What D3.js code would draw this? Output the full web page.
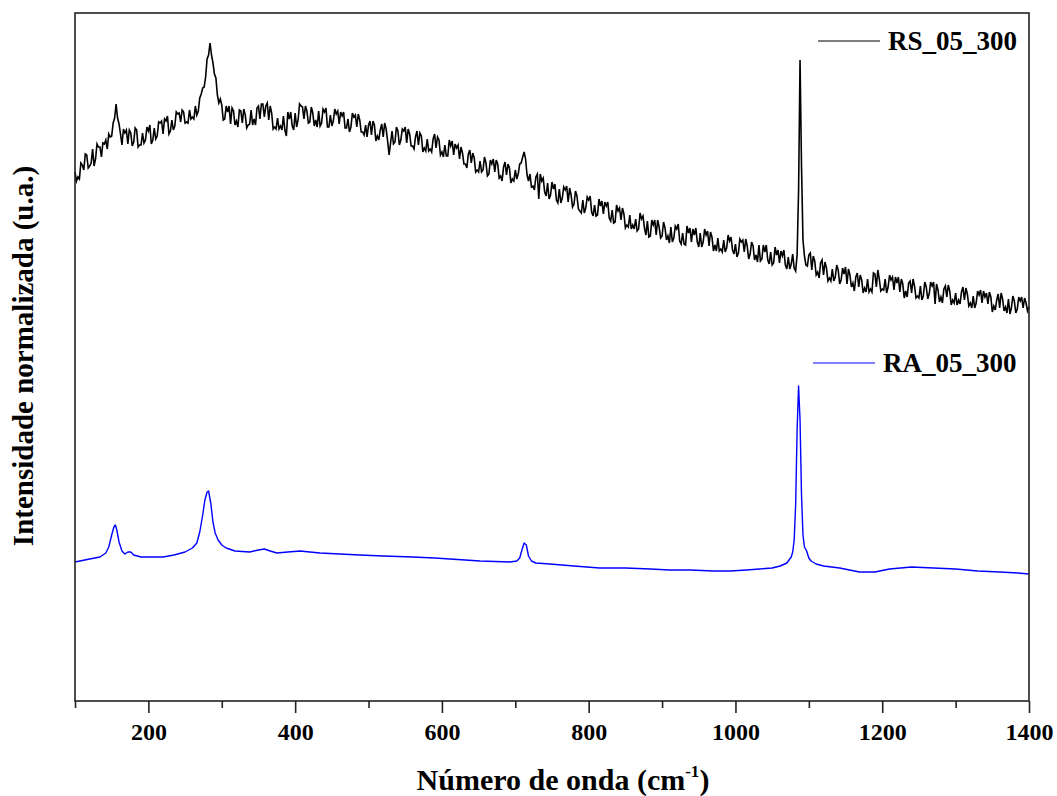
<!DOCTYPE html>
<html>
<head>
<meta charset="utf-8">
<script src="https://cdn.jsdelivr.net/npm/d3@7/dist/d3.min.js"></script>
<style>
body { margin: 0; background: #fff; }
svg text { font-family: "Liberation Serif", "Times New Roman", serif; font-weight: bold; fill: #000; }
</style>
</head>
<body>
<div id="chart"></div>
<script>
// RS_05_300: noisy spectrum, read every 4 cm-1 from 100 to 1400
const rsStart = 100
const rsStep = 4
const rsIntensity = [
    5.29, 5.24, 5.38, 5.31, 5.46, 5.35, 5.52, 5.42, 5.54, 5.44,
    5.57, 5.52, 5.64, 5.78, 5.97, 5.77, 5.56, 5.68, 5.57, 5.68,
    5.59, 5.71, 5.56, 5.68, 5.61, 5.70, 5.57, 5.73, 5.65, 5.78,
    5.67, 5.80, 5.67, 5.81, 5.75, 5.87, 5.79, 5.89, 5.79, 5.91,
    5.84, 5.95, 5.90, 6.07, 6.14, 6.42, 6.58, 6.38, 6.23, 5.98,
    5.96, 5.82, 5.89, 5.77, 5.90, 5.80, 5.91, 5.78, 5.86, 5.76,
    5.91, 5.82, 5.93, 5.82, 5.97, 5.95, 5.81, 5.88, 5.74, 5.83,
    5.75, 5.85, 5.65, 5.82, 5.75, 5.88, 5.81, 5.95, 5.82, 5.90,
    5.79, 5.88, 5.81, 5.90, 5.78, 5.89, 5.74, 5.86, 5.80, 5.87,
    5.77, 5.85, 5.73, 5.82, 5.74, 5.84, 5.74, 5.81, 5.69, 5.76,
    5.76, 5.66, 5.76, 5.65, 5.71, 5.64, 5.72, 5.46, 5.70, 5.59,
    5.70, 5.61, 5.70, 5.58, 5.67, 5.55, 5.64, 5.56, 5.65, 5.53,
    5.62, 5.52, 5.62, 5.53, 5.61, 5.49, 5.56, 5.45, 5.55, 5.46,
    5.53, 5.42, 5.48, 5.37, 5.47, 5.38, 5.43, 5.31, 5.40, 5.31,
    5.38, 5.27, 5.37, 5.29, 5.37, 5.25, 5.34, 5.26, 5.33, 5.22,
    5.31, 5.27, 5.38, 5.49, 5.26, 5.27, 5.15, 5.24, 5.02, 5.20,
    5.09, 5.18, 5.06, 5.12, 5.01, 5.12, 5.03, 5.11, 4.99, 5.06,
    4.97, 5.05, 4.90, 5.01, 4.93, 5.01, 4.89, 4.96, 4.86, 4.95,
    4.87, 4.95, 4.83, 4.91, 4.79, 4.90, 4.81, 4.87, 4.76, 4.86,
    4.76, 4.82, 4.72, 4.82, 4.73, 4.80, 4.65, 4.76, 4.66, 4.74,
    4.65, 4.73, 4.65, 4.74, 4.63, 4.72, 4.60, 4.68, 4.56, 4.68,
    4.59, 4.66, 4.59, 4.68, 4.59, 4.66, 4.55, 4.64, 4.56, 4.63,
    4.52, 4.61, 4.53, 4.60, 4.51, 4.57, 4.48, 4.59, 4.49, 4.55,
    4.47, 4.55, 4.46, 4.56, 4.42, 4.49, 4.41, 4.49, 4.38, 4.46,
    4.38, 4.45, 4.36, 4.44, 4.37, 4.33, 4.46, 6.41, 4.61, 4.36,
    4.46, 4.31, 4.40, 4.29, 4.38, 4.26, 4.33, 4.23, 4.32, 4.24,
    4.31, 4.21, 4.27, 4.17, 4.26, 4.18, 4.24, 4.14, 4.21, 4.13,
    4.22, 4.12, 4.28, 4.14, 4.22, 4.12, 4.22, 4.14, 4.21, 4.11,
    4.18, 4.09, 4.17, 4.10, 4.18, 4.08, 4.15, 4.05, 4.15, 4.05,
    4.14, 4.07, 4.15, 3.97, 4.11, 4.04, 4.12, 4.04, 4.10, 4.01,
    4.08, 4.01, 4.09, 4.01, 4.07, 3.98, 4.05, 3.98, 4.06, 3.98,
    4.04, 3.97, 4.04, 3.95, 4.01, 3.93, 4.02, 3.94, 4.02, 3.93,
    4.00, 3.92, 4.00, 3.93, 3.98, 3.94
]

// RS_05_300 in between: 102, 106, ... 1398 cm-1
const rsIntensityMid = [
    5.20, 5.22, 5.36, 5.47, 5.33, 5.38, 5.35, 5.57, 5.54, 5.58,
    5.61, 5.67, 5.65, 5.83, 5.83, 5.67, 5.72, 5.71, 5.71, 5.55,
    5.73, 5.54, 5.56, 5.58, 5.74, 5.76, 5.61, 5.62, 5.79, 5.80,
    5.82, 5.85, 5.70, 5.71, 5.89, 5.88, 5.91, 5.78, 5.78, 5.82,
    5.82, 5.86, 6.03, 6.13, 6.24, 6.46, 6.46, 6.27, 6.06, 6.02,
    5.81, 5.95, 5.95, 5.93, 5.76, 5.74, 5.90, 5.92, 5.73, 5.77,
    5.76, 5.76, 5.95, 5.97, 5.84, 5.98, 5.95, 5.72, 5.72, 5.72,
    5.71, 5.71, 5.89, 5.89, 5.71, 5.74, 5.97, 5.94, 5.95, 5.78,
    5.94, 5.75, 5.74, 5.75, 5.92, 5.93, 5.74, 5.75, 5.92, 5.90,
    5.89, 5.89, 5.73, 5.69, 5.88, 5.86, 5.87, 5.69, 5.66, 5.64,
    5.80, 5.80, 5.60, 5.61, 5.77, 5.78, 5.60, 5.58, 5.57, 5.74,
    5.56, 5.72, 5.74, 5.72, 5.55, 5.52, 5.70, 5.68, 5.49, 5.50,
    5.50, 5.49, 5.67, 5.64, 5.46, 5.44, 5.45, 5.61, 5.60, 5.57,
    5.56, 5.54, 5.37, 5.33, 5.51, 5.48, 5.29, 5.29, 5.29, 5.44,
    5.25, 5.41, 5.42, 5.41, 5.23, 5.20, 5.39, 5.37, 5.18, 5.20,
    5.22, 5.37, 5.44, 5.42, 5.20, 5.14, 5.11, 5.27, 5.27, 5.23,
    5.05, 5.02, 5.19, 5.17, 4.98, 4.98, 5.14, 5.15, 5.13, 4.94,
    5.10, 4.92, 4.88, 4.88, 5.04, 5.05, 4.85, 4.85, 5.02, 5.00,
    4.99, 4.99, 4.80, 4.78, 4.96, 4.93, 4.93, 4.73, 4.74, 4.72,
    4.72, 4.70, 4.88, 4.85, 4.66, 4.64, 4.81, 4.81, 4.81, 4.63,
    4.79, 4.61, 4.58, 4.59, 4.75, 4.77, 4.57, 4.57, 4.75, 4.73,
    4.72, 4.73, 4.54, 4.54, 4.72, 4.70, 4.69, 4.50, 4.50, 4.50,
    4.49, 4.49, 4.66, 4.64, 4.47, 4.44, 4.62, 4.61, 4.62, 4.42,
    4.59, 4.41, 4.39, 4.40, 4.56, 4.56, 4.37, 4.36, 4.54, 4.51,
    4.50, 4.51, 4.32, 4.32, 4.47, 4.30, 5.10, 5.35, 4.45, 4.35,
    4.48, 4.45, 4.26, 4.23, 4.41, 4.39, 4.20, 4.20, 4.20, 4.36,
    4.17, 4.33, 4.34, 4.32, 4.14, 4.10, 4.28, 4.26, 4.08, 4.09,
    4.09, 4.09, 4.27, 4.31, 4.10, 4.11, 4.08, 4.26, 4.24, 4.24,
    4.24, 4.22, 4.03, 4.04, 4.20, 4.22, 4.03, 4.03, 4.01, 4.19,
    4.02, 4.19, 4.19, 4.17, 3.99, 3.98, 4.15, 4.16, 3.96, 3.98,
    3.96, 3.97, 4.14, 4.13, 3.95, 3.93, 3.93, 4.10, 4.11, 4.10,
    4.08, 4.09, 3.89, 3.91, 4.07, 4.08, 3.90, 3.88, 3.87, 4.05,
    3.88, 4.04, 4.04, 4.03, 3.90
]

// RA_05_300: smooth spectrum, read at uneven wavenumbers
const raWavenumber = [
    100, 120, 134, 142, 146, 150, 153, 155, 157, 160, 164, 168, 172, 176, 180, 190,
    204, 220, 235, 250, 260, 266, 270, 274, 277, 280, 282, 285, 288, 291, 295, 300,
    306, 318, 338, 350, 358, 366, 375, 390, 407, 420, 434, 461, 488, 520, 560, 590,
    611, 652, 693, 702, 706, 709, 712, 715, 718, 722, 728, 747, 780, 815, 850, 884,
    910, 938, 970, 993, 1015, 1033, 1050, 1061, 1070, 1076, 1078, 1080, 1082, 1084, 1086, 1088,
    1090, 1092, 1094, 1097, 1100, 1103, 1110, 1120, 1142, 1169, 1190, 1210, 1240, 1270, 1300, 1330,
    1360, 1385, 1400
]
const raIntensity = [
    1.39, 1.42, 1.44, 1.48, 1.54, 1.66, 1.74, 1.76, 1.71, 1.59, 1.50, 1.47, 1.49, 1.49, 1.46, 1.44,
    1.44, 1.44, 1.46, 1.49, 1.53, 1.58, 1.69, 1.86, 2.01, 2.09, 2.10, 1.98, 1.79, 1.68, 1.61, 1.56,
    1.53, 1.50, 1.49, 1.51, 1.52, 1.50, 1.48, 1.49, 1.50, 1.49, 1.48, 1.47, 1.46, 1.45, 1.44, 1.43,
    1.42, 1.40, 1.39, 1.40, 1.43, 1.51, 1.58, 1.56, 1.45, 1.40, 1.38, 1.37, 1.35, 1.33, 1.33, 1.32,
    1.31, 1.31, 1.30, 1.30, 1.31, 1.32, 1.33, 1.35, 1.38, 1.44, 1.49, 1.61, 1.96, 2.71, 3.15, 2.81,
    2.06, 1.66, 1.54, 1.50, 1.43, 1.40, 1.37, 1.35, 1.33, 1.29, 1.29, 1.32, 1.34, 1.33, 1.32, 1.30,
    1.29, 1.28, 1.27
]

const seriesNames = ['RS_05_300', 'RA_05_300']
const seriesColors = ['#000000', '#0000ff']
const majorTicks = [200, 400, 600, 800, 1000, 1200, 1400]
const minorTicks = [100, 300, 500, 700, 900, 1100, 1300]

let w = 1057
let h = 796
let margin = {top: 13, right: 28, bottom: 95, left: 75}
let serif = '"Liberation Serif", "Times New Roman", serif'

let svg = d3
    .select('#chart')
    .append('svg')
    .attr('width', w)
    .attr('height', h)

let x = d3
    .scaleLinear()
    .domain([100, 1400])
    .range([margin.left, w - margin.right])

let y = d3
    .scaleLinear()
    .domain([0, 6.88])
    .range([h - margin.bottom, margin.top])

// interleave the two RS readings
let rsData = []
rsIntensity.forEach((v, i) =>
{
    rsData.push({wn: rsStart + i * rsStep, v: v})
    if (i < rsIntensityMid.length)
        rsData.push({wn: rsStart + i * rsStep + rsStep / 2, v: rsIntensityMid[i]})
})
let raData = raWavenumber.map((wn, i) => ({wn: wn, v: raIntensity[i]}))

let line = d3.line()
    .x(d => x(d.wn))
    .y(d => y(d.v))

// spectra
svg.append('path')
    .datum(rsData)
    .attr('d', line)
    .attr('fill', 'none')
    .attr('stroke', seriesColors[0])
    .attr('stroke-width', 1.6)

svg.append('path')
    .datum(raData)
    .attr('d', line)
    .attr('fill', 'none')
    .attr('stroke', seriesColors[1])
    .attr('stroke-width', 1.4)
    .attr('stroke-linejoin', 'round')

// frame
svg.append('rect')
    .attr('x', margin.left)
    .attr('y', margin.top)
    .attr('width', w - margin.left - margin.right)
    .attr('height', h - margin.top - margin.bottom)
    .attr('fill', 'none')
    .attr('stroke', '#222')
    .attr('stroke-width', 1.6)

// bottom axis, major + minor ticks
let xAxis = svg.append('g')
    .attr('transform', 'translate(0,' + (h - margin.bottom) + ')')
    .call(d3.axisBottom(x).tickValues(majorTicks).tickSize(12).tickPadding(10).tickFormat(d3.format('d')))
    .attr('font-family', serif)
    .attr('font-size', 24)

xAxis.select('.domain').remove()
xAxis.selectAll('line').attr('stroke', '#222').attr('stroke-width', 1.6)
xAxis.selectAll('text')
    .style('font-family', serif)
    .style('font-weight', 'bold')

let xMinor = svg.append('g')
    .attr('transform', 'translate(0,' + (h - margin.bottom) + ')')
    .call(d3.axisBottom(x).tickValues(minorTicks).tickSize(7).tickFormat(''))

xMinor.select('.domain').remove()
xMinor.selectAll('line').attr('stroke', '#222').attr('stroke-width', 1.6)

// axis titles
let xTitle = svg.append('text')
    .attr('x', 563)
    .attr('y', 790)
    .attr('text-anchor', 'middle')
    .attr('font-size', 30)

xTitle.append('tspan').text('Número de onda (cm')
xTitle.append('tspan').text('-1').attr('font-size', 17).attr('dy', -13)
xTitle.append('tspan').text(')').attr('dy', 13)

svg.append('text')
    .attr('transform', 'translate(33,356) rotate(-90)')
    .attr('text-anchor', 'middle')
    .attr('font-size', 29)
    .text('Intensidade normalizada (u.a.)')

// legend entries sit next to each spectrum
let legend = [
    {name: seriesNames[0], color: seriesColors[0], x1: 818, x2: 880, y: 41},
    {name: seriesNames[1], color: seriesColors[1], x1: 813, x2: 875, y: 363}
]

legend.forEach(l =>
{
    svg.append('line')
        .attr('x1', l.x1)
        .attr('x2', l.x2)
        .attr('y1', l.y)
        .attr('y2', l.y)
        .attr('stroke', l.color)
        .attr('stroke-width', 1.2)

    svg.append('text')
        .attr('x', l.x2 + 8)
        .attr('y', l.y + 9)
        .attr('font-size', 27)
        .text(l.name)
})
</script>
</body>
</html>
